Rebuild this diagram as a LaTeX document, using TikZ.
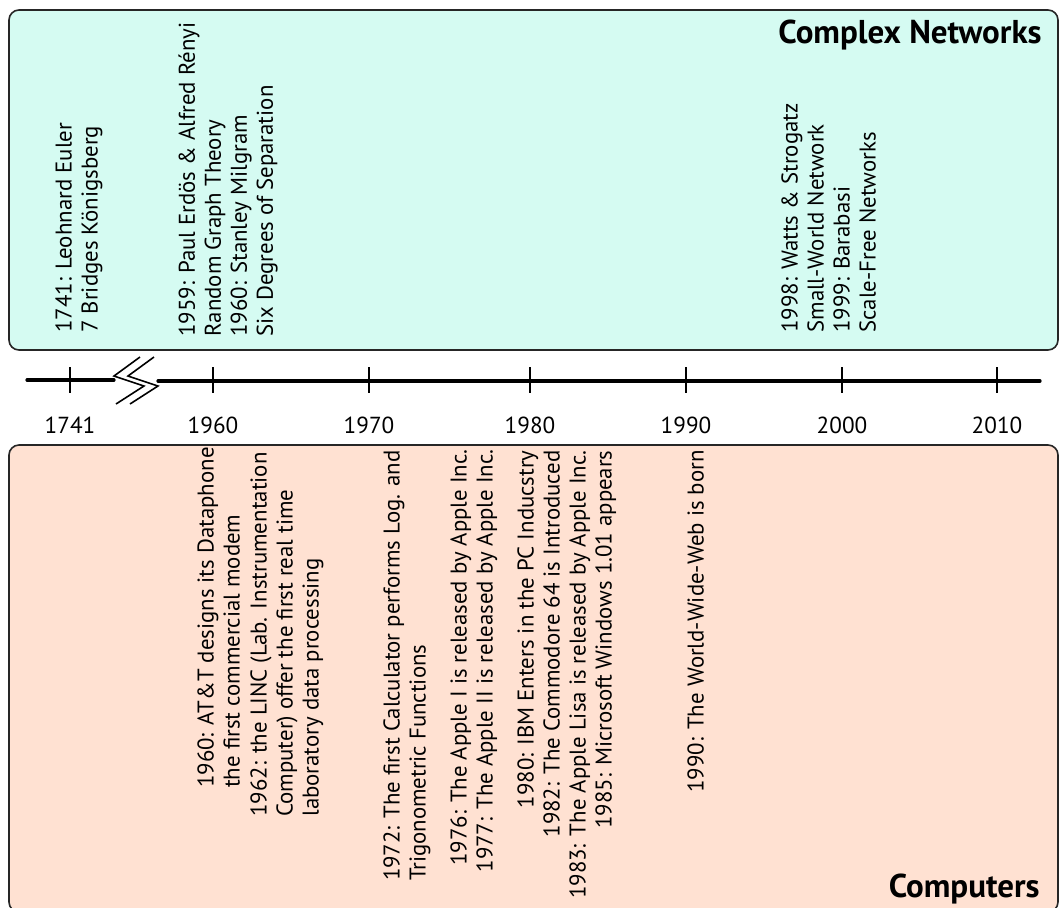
\documentclass[tikz,border=0pt]{standalone}
\usepackage{fontspec}
\setmainfont{PT Sans}
\usetikzlibrary{positioning}
\definecolor{netfill}{RGB}{213,251,242}
\definecolor{compfill}{RGB}{255,225,210}

\begin{document}
\begin{tikzpicture}[x=0.5pt,y=-0.5pt,
   evt/.style={rotate=90,inner sep=0pt,font=\fontsize{11.4}{13}\selectfont},
   yr/.style={inner sep=0pt,font=\fontsize{11.6}{13}\selectfont},
   head/.style={inner sep=0pt,font=\fontsize{16.5}{18}\selectfont\bfseries},
   area/.style={draw=black!85,line width=0.8pt,rounded corners=5pt}]
   \useasboundingbox (0,0) rectangle (1061,907);
   % the two areas
   \draw[area,fill=netfill] (9,10) rectangle (1058,350);
   \draw[area,fill=compfill] (9,445) rectangle (1058,912);
   \node[head,anchor=base east] (cn) at (1042,43) {Complex Networks};
   \node[head,anchor=base east] (cp) at (1040,897) {Computers};
   % time line with a break
   \coordinate (l0) at (27,380);
   \coordinate (l1) at (114,380);
   \coordinate (r0) at (158,381);
   \coordinate (r1) at (1040,381);
   \draw[line width=1.6pt,line cap=round] (l0) -- (l1);
   \draw[line width=1.6pt,line cap=round] (r0) -- (r1);
   \draw[line width=0.8pt] (140,357) -- (114,376) -- (144,386) -- (116,404);
   \draw[line width=0.8pt] (154,357) -- (128,376) -- (158,386) -- (130,404);
   \foreach \yr/\px in {1741/70,1960/213,1970/369,1980/530,1990/686,2000/842,2010/997}{
      \draw[line width=0.8pt] (\px,367) -- (\px,393);
      \node[yr] (y\yr) at (\px,425) {\yr};
   }
   % complex networks
   \node[evt,anchor=north west,align=left] (euler) at (55,333)
      {1741: Leohnard Euler\\7 Bridges Königsberg};
   \node[evt,anchor=north west,align=left] (erdos) at (178,337)
      {1959: Paul Erdös \& Alfred Rényi\\Random Graph Theory\\1960: Stanley Milgram\\Six Degrees of Separation};
   \node[evt,anchor=north west,align=left] (watts) at (781,333)
      {1998: Watts \& Strogatz\\Small-World Network\\1999: Barabasi\\Scale-Free Networks};
   % computers
   \node[evt,anchor=north east,align=left] (modem) at (197,447)
      {1960: AT\&T designs its Dataphone\\the first commercial modem};
   \node[evt,anchor=north east,align=left] (linc) at (250,452)
      {1962: the LINC (Lab. Instrumentation\\Computer) offer the first real time\\laboratory data processing};
   \node[evt,anchor=north east,align=left] (calc) at (383,450)
      {1972: The first Calculator performs Log. and\\Trigonometric Functions};
   \node[evt,anchor=north east,align=right] (apple) at (450,449)
      {1976: The Apple I is released by Apple Inc.\\1977: The Apple II is released by Apple Inc.};
   \node[evt,anchor=north east] (ibm) at (517,450)
      {1980: IBM Enters in the PC Inducstry};
   \node[evt,anchor=north east,align=right] (lisa) at (543,450)
      {1982: The Commodore 64 is Introduced\\1983: The Apple Lisa is released by Apple Inc.\\1985: Microsoft Windows 1.01 appears};
   \node[evt,anchor=north east] (www) at (687,450)
      {1990: The World-Wide-Web is born};
\end{tikzpicture}
\end{document}
